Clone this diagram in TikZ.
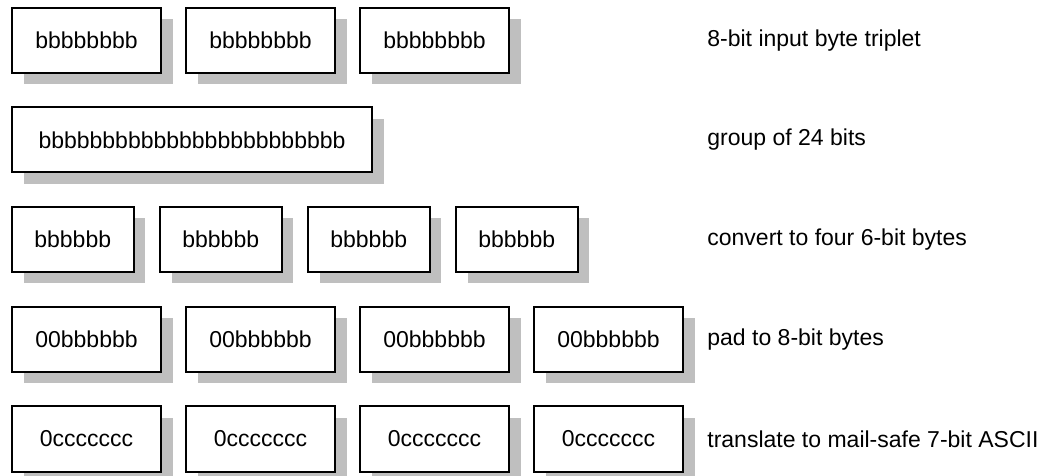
\documentclass[tikz,border=0pt]{standalone}
\usepackage{fontspec}
\setmainfont{Liberation Sans}
\usetikzlibrary{positioning, shadows}

\begin{document}
\begin{tikzpicture}[x=0.5pt, y=-0.5pt, node distance=12.5pt]
    % Stili
    \tikzstyle{byte} = [draw, rectangle, line width=1pt, fill=white, minimum height=32.5pt,
        inner sep=0pt, outer sep=0pt, font=\fontsize{11.5}{14}\selectfont,
        drop shadow={shadow xshift=5.75pt, shadow yshift=-5.75pt, fill=black!25, opacity=1}]
    \tikzstyle{wide} = [byte, minimum width=74.5pt]
    \tikzstyle{whole} = [byte, minimum width=180pt]
    \tikzstyle{six} = [byte, minimum width=60.75pt]
    \tikzstyle{rowtext} = [anchor=west, inner sep=0pt, font=\fontsize{11.5}{14}\selectfont]

    \useasboundingbox (0,0) rectangle (1057,476);

    % Riga 1: tre byte
    \node [wide, anchor=west] (in1) at (12,40.5) {bbbbbbbb};
    \node [wide, right=of in1] (in2) {bbbbbbbb};
    \node [wide, right=of in2] (in3) {bbbbbbbb};
    \node [rowtext] (t1) at (707,40.5) {8-bit input byte triplet};

    % Riga 2: gruppo di 24 bit
    \node [whole, anchor=west] (grp) at (12,140) {bbbbbbbbbbbbbbbbbbbbbbbb};
    \node [rowtext] (t2) at (707,140) {group of 24 bits};

    % Riga 3: quattro byte da 6 bit
    \node [six, anchor=west] (sx1) at (12,239.5) {bbbbbb};
    \node [six, right=13.25pt of sx1] (sx2) {bbbbbb};
    \node [six, right=13.25pt of sx2] (sx3) {bbbbbb};
    \node [six, right=13.25pt of sx3] (sx4) {bbbbbb};
    \node [rowtext] (t3) at (707,239.5) {convert to four 6-bit bytes};

    % Riga 4: padding
    \node [wide, anchor=west] (pd1) at (12,339.5) {00bbbbbb};
    \node [wide, right=of pd1] (pd2) {00bbbbbb};
    \node [wide, right=of pd2] (pd3) {00bbbbbb};
    \node [wide, right=of pd3] (pd4) {00bbbbbb};
    \node [rowtext] (t4) at (707,339.5) {pad to 8-bit bytes};

    % Riga 5: ASCII
    \node [wide, anchor=west] (as1) at (12,439) {0ccccccc};
    \node [wide, right=of as1] (as2) {0ccccccc};
    \node [wide, right=of as2] (as3) {0ccccccc};
    \node [wide, right=of as3] (as4) {0ccccccc};
    \node [rowtext] (t5) at (707,439) {translate to mail-safe 7-bit ASCII};

\end{tikzpicture}
\end{document}
